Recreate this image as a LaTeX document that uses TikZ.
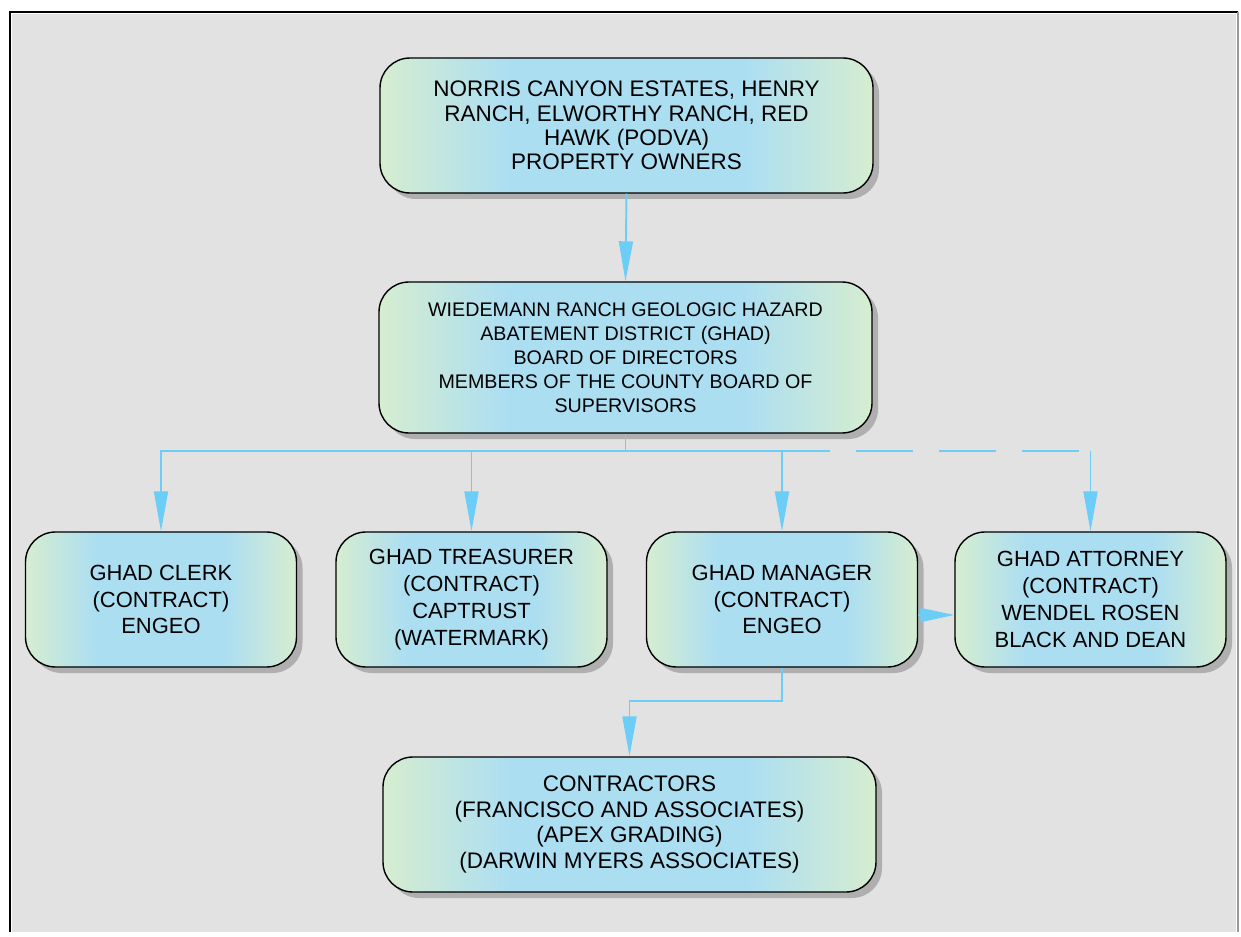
\documentclass[tikz,border=0pt]{standalone}
\usepackage{fontspec}
\setmainfont{Liberation Sans}
\usetikzlibrary{arrows.meta,shadows}

\definecolor{boxgreen}{RGB}{214,237,208}
\definecolor{boxblue}{RGB}{172,222,242}
\definecolor{linkblue}{RGB}{108,206,246}
\definecolor{pagegrey}{RGB}{226,226,226}

\pgfdeclarehorizontalshading{boxshade}{100bp}{color(0bp)=(boxgreen); color(25bp)=(boxgreen);
  color(38bp)=(boxblue); color(62bp)=(boxblue); color(75bp)=(boxgreen); color(100bp)=(boxgreen)}

\tikzset{
  orgbox/.style={draw=black, line width=0.8pt, rounded corners=0.6cm, shading=boxshade,
    drop shadow={shadow xshift=0.12cm, shadow yshift=-0.12cm, fill=black!55, opacity=0.45},
    align=center, inner sep=0pt, text=black},
  widebox/.style={orgbox, minimum width=9.86cm},
  smallbox/.style={orgbox, minimum width=5.42cm, minimum height=2.7cm, font=\fontsize{12.5}{15.3}\selectfont},
  link/.style={draw=linkblue, line width=1.1pt},
  linkarrow/.style={-{Triangle[length=0.8cm, width=0.28cm]}},
}

\begin{document}
\begin{tikzpicture}
        \useasboundingbox (0, 0) rectangle (24.82, 18.72);
        % page frame
        \fill[white] (0, 0) rectangle (24.82, 18.72);
        \fill[pagegrey] (0.24, 0.08) rectangle (24.72, 18.44);
        \draw[black, line width=1.5pt] (0.2, 0.08) -- (0.2, 18.48) -- (24.76, 18.48);
        \draw[black!40, line width=0.8pt] (24.76, 18.48) -- (24.76, 0.08);

        \node[widebox, minimum height=2.7cm, font=\fontsize{12.8}{13.8}\selectfont] (owners) at (12.53, 16.21) {NORRIS CANYON ESTATES, HENRY\\RANCH, ELWORTHY RANCH, RED\\HAWK (PODVA)\\PROPERTY OWNERS};
        \node[widebox, minimum height=3.02cm, font=\fontsize{11.2}{13.6}\selectfont] (board) at (12.51, 11.57) {WIEDEMANN RANCH GEOLOGIC HAZARD\\ABATEMENT DISTRICT (GHAD)\\BOARD OF DIRECTORS\\MEMBERS OF THE COUNTY BOARD OF\\SUPERVISORS};
        \node[smallbox] (clerk) at (3.22, 6.73) {GHAD CLERK\\(CONTRACT)\\ENGEO};
        \node[smallbox] (treas) at (9.43, 6.73) {GHAD TREASURER\\(CONTRACT)\\CAPTRUST\\(WATERMARK)};
        \node[smallbox] (mgr) at (15.64, 6.73) {GHAD MANAGER\\(CONTRACT)\\ENGEO};
        \node[smallbox] (atty) at (21.81, 6.73) {GHAD ATTORNEY\\(CONTRACT)\\WENDEL ROSEN\\BLACK AND DEAN};
        \node[widebox, minimum height=2.7cm, font=\fontsize{12.8}{14.7}\selectfont] (contr) at (12.59, 2.23) {CONTRACTORS\\(FRANCISCO AND ASSOCIATES)\\(APEX GRADING)\\(DARWIN MYERS ASSOCIATES)};

        \coordinate (split) at (12.51, 9.70);
        \coordinate (dashstart) at (16.6, 9.70);
        \coordinate (attyturn) at (split -| atty.north);

        \draw[link, linkarrow] (owners.south) -- (board.north);
        \draw[link] (board.south) -- (split);
        \draw[link, linkarrow] (split) -| (clerk.north);
        \draw[link, linkarrow] (split) -| (treas.north);
        \draw[link, linkarrow] (split) -| (mgr.north);
        \draw[link] (split) -- (dashstart);
        \draw[link, dash pattern=on 1.14cm off 0.52cm, dash phase=1.14cm] (dashstart) -- (attyturn);
        \draw[link, linkarrow] (attyturn) -- (atty.north);
        \draw[link, -{Triangle[length=0.68cm, width=0.28cm]}] ([yshift=-0.31cm]mgr.east) -- ([yshift=-0.31cm]atty.west);
        \draw[link, linkarrow] (mgr.south) -- ++(0, -0.66) -| (contr.north);
      \end{tikzpicture}
\end{document}
